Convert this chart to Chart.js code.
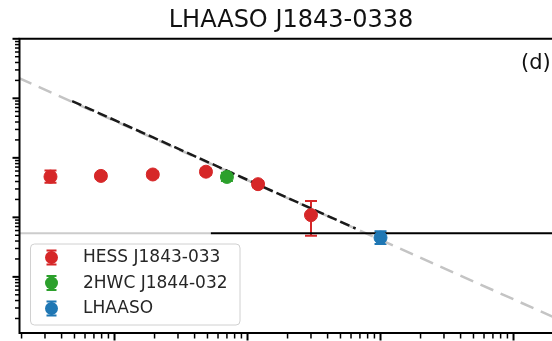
<!DOCTYPE html>
<html>
<head>
<meta charset="utf-8">
<script src="https://cdn.jsdelivr.net/npm/chart.js@4.4.0/dist/chart.umd.min.js"></script>
<style>
  html, body { margin: 0; padding: 0; background: #fff; overflow: hidden; }
  #wrap { width: 582px; height: 341px; }
</style>
</head>
<body>
<div id="wrap"><canvas id="sed" width="582" height="341"></canvas></div>
<script>
// Spectral energy distribution: energy in TeV, E^2 dN/dE in erg cm^-2 s^-1

// HESS J1843-033 flux points
const hessE  = [0.33, 0.79, 1.94, 4.87, 12.0, 30.0];
const hessF  = [4.82e-12, 4.97e-12, 5.25e-12, 5.85e-12, 3.61e-12, 1.09e-12];
const hessLo = [3.8e-12, 4.45e-12, 4.7e-12, 5.2e-12, 3.2e-12, 4.9e-13];
const hessHi = [6.1e-12, 5.55e-12, 5.85e-12, 6.55e-12, 4.05e-12, 1.89e-12];

// 2HWC J1844-032 flux point
const hawcE  = [7.0];
const hawcF  = [4.78e-12];
const hawcLo = [4.1e-12];
const hawcHi = [5.6e-12];

// LHAASO flux point
const lhaasoE  = [100];
const lhaasoF  = [4.56e-13];
const lhaasoLo = [3.55e-13];
const lhaasoHi = [5.86e-13];

// Power-law model: full extrapolation and fitted range
const modelFullE = [0.19, 2400];
const modelFullF = [2.2e-10, 1.75e-14];
const modelFitE  = [0.48, 65];
const modelFitF  = [9.0e-11, 6.5e-13];

// Horizontal reference level, split into two segments
const levelF     = 5.43e-13;
const levelLowE  = [0.19, 5.3];
const levelHighE = [5.3, 2400];

// Axis limits and log tick positions
const xRange = [0.193, 2335];
const yRange = [1.14e-14, 1e-9];
const xDecades = [0.1, 1, 10, 100, 1000];
const yDecades = [1e-14, 1e-13, 1e-12, 1e-11, 1e-10, 1e-9];
const minorSteps = [2, 3, 4, 5, 6, 7, 8, 9];

const titleText = 'LHAASO J1843-0338';
const panelTag = '(d)';
const FONT = "'DejaVu Sans', 'Liberation Sans', sans-serif";

const pts = (xs, ys, lo, hi) => xs.map((x, i) => ({ x, y: ys[i], yMin: lo ? lo[i] : null, yMax: hi ? hi[i] : null }));

function pointSet(label, color, xs, ys, lo, hi) {
  return {
    label, data: pts(xs, ys, lo, hi), showLine: false,
    pointRadius: 6.5, pointStyle: 'circle',
    backgroundColor: color, borderColor: color, borderWidth: 1,
    errorBars: true, inLegend: true, order: 1
  };
}
function lineSet(xs, ys, color, width, dash, order) {
  return {
    data: pts(xs, ys), showLine: true, pointRadius: 0,
    borderColor: color, borderWidth: width, borderDash: dash || [],
    backgroundColor: color, order: order
  };
}

const datasets = [
  pointSet('HESS J1843-033', '#d62728', hessE, hessF, hessLo, hessHi),
  pointSet('2HWC J1844-032', '#2ca02c', hawcE, hawcF, hawcLo, hawcHi),
  pointSet('LHAASO', '#1f77b4', lhaasoE, lhaasoF, lhaasoLo, lhaasoHi),
  lineSet(modelFitE, modelFitF, '#1a1a1a', 2.5, [10, 4], 2),
  lineSet(levelHighE, levelHighE.map(() => levelF), '#000000', 2, null, 3),
  lineSet(levelLowE, levelLowE.map(() => levelF), '#cccccc', 2, null, 4),
  lineSet(modelFullE, modelFullF, '#c4c4c4', 2.5, [14, 8], 5)
];

// Vertical error bars with caps, drawn under the markers
const errorBars = {
  id: 'errorBars',
  beforeDatasetsDraw(chart) {
    const { ctx, chartArea: a, scales: { x, y } } = chart;
    const cap = 6;
    ctx.save();
    ctx.beginPath(); ctx.rect(a.left, a.top, a.width, a.height); ctx.clip();
    chart.data.datasets.forEach(ds => {
      if (!ds.errorBars) return;
      ctx.strokeStyle = ds.borderColor;
      ctx.lineWidth = 2;
      ds.data.forEach(p => {
        const px = x.getPixelForValue(p.x);
        const lo = y.getPixelForValue(p.yMin);
        const hi = y.getPixelForValue(p.yMax);
        ctx.beginPath();
        ctx.moveTo(px, lo); ctx.lineTo(px, hi);
        ctx.moveTo(px - cap, lo); ctx.lineTo(px + cap, lo);
        ctx.moveTo(px - cap, hi); ctx.lineTo(px + cap, hi);
        ctx.stroke();
      });
    });
    ctx.restore();
  }
};

// Axes frame, outward log ticks, panel tag and legend box
const frame = {
  id: 'frame',
  afterDatasetsDraw(chart) {
    const { ctx, chartArea: a, scales: { x, y } } = chart;
    ctx.save();

    // legend
    const lx = a.left + 11, ly = a.bottom - 89, lw = 209.5, lh = 81;
    ctx.beginPath();
    ctx.roundRect(lx, ly, lw, lh, 4);
    ctx.fillStyle = 'rgba(255,255,255,0.8)';
    ctx.fill();
    ctx.strokeStyle = '#d0d0d0';
    ctx.lineWidth = 1;
    ctx.stroke();
    const entries = chart.data.datasets.filter(d => d.inLegend);
    ctx.font = '17px ' + FONT;
    ctx.textBaseline = 'middle';
    ctx.textAlign = 'left';
    entries.forEach((d, i) => {
      const cy = ly + 13.5 + i * 25.5;
      const cx = lx + 21;
      ctx.strokeStyle = d.borderColor;
      ctx.fillStyle = d.backgroundColor;
      ctx.lineWidth = 2;
      ctx.beginPath();
      ctx.moveTo(cx, cy - 7); ctx.lineTo(cx, cy + 7);
      ctx.moveTo(cx - 5, cy - 7); ctx.lineTo(cx + 5, cy - 7);
      ctx.moveTo(cx - 5, cy + 7); ctx.lineTo(cx + 5, cy + 7);
      ctx.stroke();
      ctx.beginPath();
      ctx.arc(cx, cy, 6.5, 0, Math.PI * 2);
      ctx.fill();
      ctx.fillStyle = '#262626';
      ctx.fillText(d.label, lx + 52.5, cy + 0.5);
    });

    // panel tag
    ctx.fillStyle = '#111';
    ctx.font = '21px ' + FONT;
    ctx.textBaseline = 'alphabetic';
    ctx.fillText(panelTag, a.right - 41.5, a.top + 30.5);

    // spines
    ctx.strokeStyle = '#000';
    ctx.lineWidth = 2;
    ctx.beginPath();
    ctx.rect(a.left, a.top, a.width, a.height);
    ctx.stroke();

    // ticks
    const tick = (scale, decades, range, draw) => {
      decades.forEach(d => {
        [1].concat(minorSteps).forEach(m => {
          const v = d * m;
          if (v < range[0] * 0.999 || v > range[1] * 1.001) return;
          draw(scale.getPixelForValue(v), m === 1);
        });
      });
    };
    tick(x, xDecades, xRange, (px, major) => {
      ctx.lineWidth = major ? 2 : 1.5;
      ctx.beginPath();
      ctx.moveTo(px, a.bottom);
      ctx.lineTo(px, a.bottom + (major ? 7.5 : 5.5));
      ctx.stroke();
    });
    tick(y, yDecades, yRange, (py, major) => {
      ctx.lineWidth = major ? 2 : 1.5;
      ctx.beginPath();
      ctx.moveTo(a.left, py);
      ctx.lineTo(a.left - (major ? 7 : 4.5), py);
      ctx.stroke();
    });
    ctx.restore();
  }
};

new Chart(document.getElementById('sed'), {
  type: 'scatter',
  data: { datasets },
  options: {
    responsive: false,
    animation: false,
    devicePixelRatio: 1,
    events: [],
    layout: { padding: { left: 19.5, right: 19.5, top: 0, bottom: 8 } },
    scales: {
      x: {
        type: 'logarithmic', min: xRange[0], max: xRange[1],
        grid: { display: false, drawTicks: false },
        border: { display: false },
        ticks: { display: false }
      },
      y: {
        type: 'logarithmic', min: yRange[0], max: yRange[1],
        grid: { display: false, drawTicks: false },
        border: { display: false },
        ticks: { display: false }
      }
    },
    plugins: {
      legend: { display: false },
      tooltip: { enabled: false },
      title: {
        display: true, text: titleText, color: '#111',
        font: { family: FONT, size: 24, weight: 'normal' },
        padding: { top: 6, bottom: 4 }
      }
    }
  },
  plugins: [errorBars, frame]
});
</script>
</body>
</html>
